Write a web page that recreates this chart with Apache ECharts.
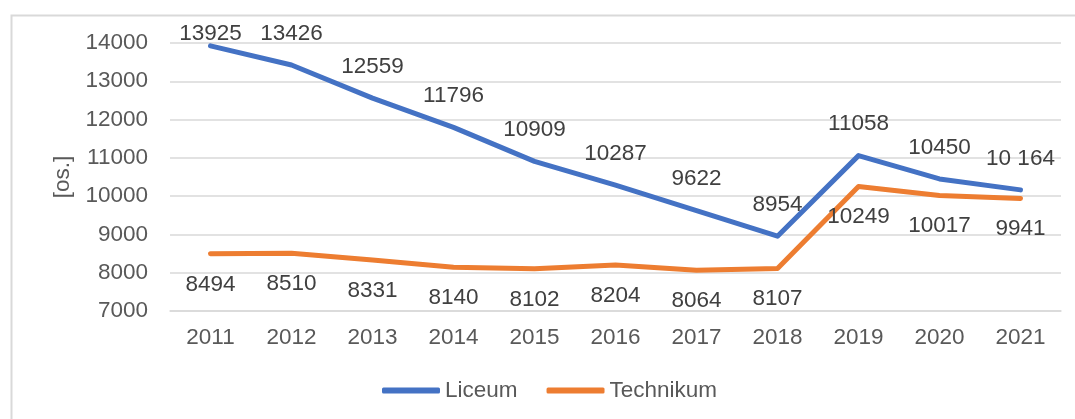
<!DOCTYPE html>
<html>
<head>
<meta charset="utf-8">
<script src="https://cdn.jsdelivr.net/npm/echarts@6/dist/echarts.min.js"></script>
<style>
html,body{margin:0;padding:0;background:#fff;}
#chart{width:1075px;height:419px;}
</style>
</head>
<body>
<div id="chart"></div>
<script>
const years = ['2011','2012','2013','2014','2015','2016','2017','2018','2019','2020','2021'];
const liceum = [13925, 13426, 12559, 11796, 10909, 10287, 9622, 8954, 11058, 10450, 10164];
const liceumLabels = ['13925','13426','12559','11796','10909','10287','9622','8954','11058','10450','10 164'];
const technikum = [8494, 8510, 8331, 8140, 8102, 8204, 8064, 8107, 10249, 10017, 9941];
const technikumLabels = ['8494','8510','8331','8140','8102','8204','8064','8107','10249','10017','9941'];
const yAxisName = '[os.]';

const FONT = '"Liberation Sans", Arial, sans-serif';
const FS = 22.5;

const chart = echarts.init(document.getElementById('chart'));
chart.setOption({
  animation: false,
  backgroundColor: '#fff',
  textStyle: { fontFamily: FONT },
  graphic: [{
    type: 'rect', left: 9, top: 13, z: -10,
    shape: { width: 1200, height: 500 },
    style: { fill: 'none', stroke: '#d9d9d9', lineWidth: 2 }
  }],
  grid: { left: 170, right: 14, top: 43, bottom: 108, containLabel: false },
  legend: {
    left: 377, top: 374,
    itemWidth: 58, itemHeight: 6, itemGap: 29,
    icon: 'roundRect',
    textStyle: { color: '#595959', fontSize: FS, fontFamily: FONT },
    data: ['Liceum', 'Technikum']
  },
  xAxis: {
    type: 'category',
    data: years,
    boundaryGap: true,
    axisLine: { show: true, lineStyle: { color: '#d9d9d9', width: 1.5 } },
    axisTick: { show: false },
    axisLabel: { color: '#595959', fontSize: FS, fontFamily: FONT, margin: 15 }
  },
  yAxis: {
    type: 'value',
    min: 7000, max: 14000, interval: 1000,
    name: yAxisName,
    nameLocation: 'middle',
    nameGap: 93,
    nameRotate: 90,
    nameTextStyle: { color: '#595959', fontSize: FS, fontFamily: FONT },
    axisLine: { show: false },
    axisTick: { show: false },
    axisLabel: { color: '#595959', fontSize: FS, fontFamily: FONT, margin: 22, formatter: v => String(v) },
    splitLine: { lineStyle: { color: '#d9d9d9', width: 1.5 } }
  },
  series: [
    {
      name: 'Liceum',
      type: 'line',
      data: liceum.map((v, i) => i === 0 ? { value: v, label: { distance: 1 } } : v),
      showSymbol: true,
      symbol: 'circle',
      symbolSize: 0.1,
      lineStyle: { color: '#4472C4', width: 5, cap: 'round', join: 'round' },
      itemStyle: { color: '#4472C4' },
      label: {
        show: true, position: 'top', distance: 20,
        color: '#404040', fontSize: FS, fontFamily: FONT,
        formatter: p => liceumLabels[p.dataIndex]
      }
    },
    {
      name: 'Technikum',
      type: 'line',
      data: technikum,
      showSymbol: true,
      symbol: 'circle',
      symbolSize: 0.1,
      lineStyle: { color: '#ED7D31', width: 5, cap: 'round', join: 'round' },
      itemStyle: { color: '#ED7D31' },
      label: {
        show: true, position: 'bottom', distance: 19,
        color: '#404040', fontSize: FS, fontFamily: FONT,
        formatter: p => technikumLabels[p.dataIndex]
      }
    }
  ]
});
</script>
</body>
</html>
